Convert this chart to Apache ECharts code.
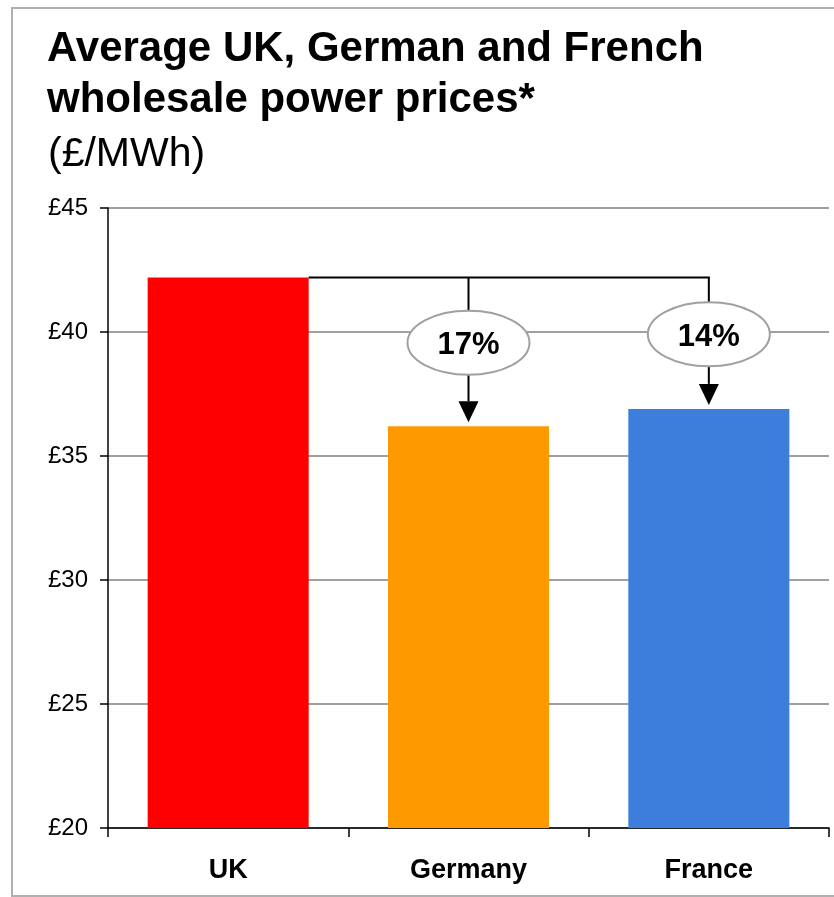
<!DOCTYPE html>
<html>
<head>
<meta charset="utf-8">
<script src="https://cdn.jsdelivr.net/npm/echarts@6/dist/echarts.min.js"></script>
<style>html,body{margin:0;padding:0;background:#fff}#c{width:834px;height:897px}</style>
</head>
<body>
<div id="c"></div>
<script>
var categories = ['UK', 'Germany', 'France'];
var prices = [42.2, 36.2, 36.9];
var barColors = ['#FF0000', '#FF9900', '#3D7EDD'];
var diffLabels = ['', '17%', '14%'];
var yTicks = { min: 20, max: 45, interval: 5 };

var chart = echarts.init(document.getElementById('c'));
var FONT = '"Liberation Sans", Arial, sans-serif';

chart.setOption({
  animation: false,
  backgroundColor: '#fff',
  title: [
    { text: 'Average UK, German and French\nwholesale power prices*', left: 42, top: 19,
      textStyle: { fontFamily: FONT, fontSize: 42, fontWeight: 'bold', color: '#000', lineHeight: 51 } },
    { text: '(£/MWh)', left: 43, top: 129,
      textStyle: { fontFamily: FONT, fontSize: 41, fontWeight: 'normal', color: '#000', lineHeight: 41 } }
  ],
  grid: { left: 108, right: 5, top: 208, bottom: 69, containLabel: false },
  xAxis: {
    type: 'category', data: categories,
    axisLine: { lineStyle: { color: '#000', width: 1.5 } },
    axisTick: { show: true, length: 9, lineStyle: { color: '#000', width: 1.5 } },
    axisLabel: { margin: 29, fontFamily: FONT, fontSize: 27, fontWeight: 'bold', color: '#000' }
  },
  yAxis: {
    type: 'value', min: yTicks.min, max: yTicks.max, interval: yTicks.interval,
    axisLine: { show: true, lineStyle: { color: '#000', width: 1.5 } },
    axisTick: { show: true, length: 8, lineStyle: { color: '#000', width: 1.5 } },
    axisLabel: { margin: 20, fontFamily: FONT, fontSize: 24, color: '#000', formatter: '£{value}' },
    splitLine: { show: true, lineStyle: { color: '#a0a0a0', width: 2 } }
  },
  series: [{
    type: 'bar', barWidth: '67%',
    data: prices.map(function (v, i) { return { value: v, itemStyle: { color: barColors[i] } }; })
  }]
});

function buildGraphics() {
  var data = chart.getModel().getSeriesByIndex(0).getData();
  var g = [];
  g.push({ type: 'rect', shape: { x: 12, y: 8, width: 840, height: 888 },
    style: { fill: 'none', stroke: '#b0b0b0', lineWidth: 2 }, silent: true, z: 0 });
  var ukLay = data.getItemLayout(0);
  var ukTop = chart.convertToPixel({ seriesIndex: 0 }, [0, prices[0]])[1];
  var last = categories.length - 1;
  var lastX = chart.convertToPixel({ seriesIndex: 0 }, [last, prices[last]])[0];
  g.push({ type: 'line', shape: { x1: ukLay.x + ukLay.width, y1: ukTop, x2: lastX + 1, y2: ukTop },
    style: { stroke: '#000', lineWidth: 2 }, z: 10 });
  for (var i = 1; i < categories.length; i++) {
    var p = chart.convertToPixel({ seriesIndex: 0 }, [i, prices[i]]);
    var x = p[0], barTop = p[1];
    var tip = barTop - 4;
    var triH = 21, triW = 10;
    var cy = (ukTop + tip) / 2 - 7;
    var rx = 61, ry = 32;
    g.push({ type: 'line', shape: { x1: x, y1: ukTop, x2: x, y2: tip - triH },
      style: { stroke: '#000', lineWidth: 2 }, z: 10 });
    g.push({ type: 'polygon', shape: { points: [[x - triW, tip - triH], [x + triW, tip - triH], [x, tip]] },
      style: { fill: '#000' }, z: 11 });
    g.push({ type: 'ellipse', shape: { cx: x, cy: cy, rx: rx, ry: ry },
      style: { fill: '#fff', stroke: '#a0a0a0', lineWidth: 2 }, z: 12 });
    g.push({ type: 'text', x: x, y: cy + 3, z: 13,
      style: { text: diffLabels[i], fontFamily: FONT, fontSize: 31, fontWeight: 'bold', fill: '#000',
        align: 'center', verticalAlign: 'middle' } });
  }
  chart.setOption({ graphic: g });
}
buildGraphics();
</script>
</body>
</html>
